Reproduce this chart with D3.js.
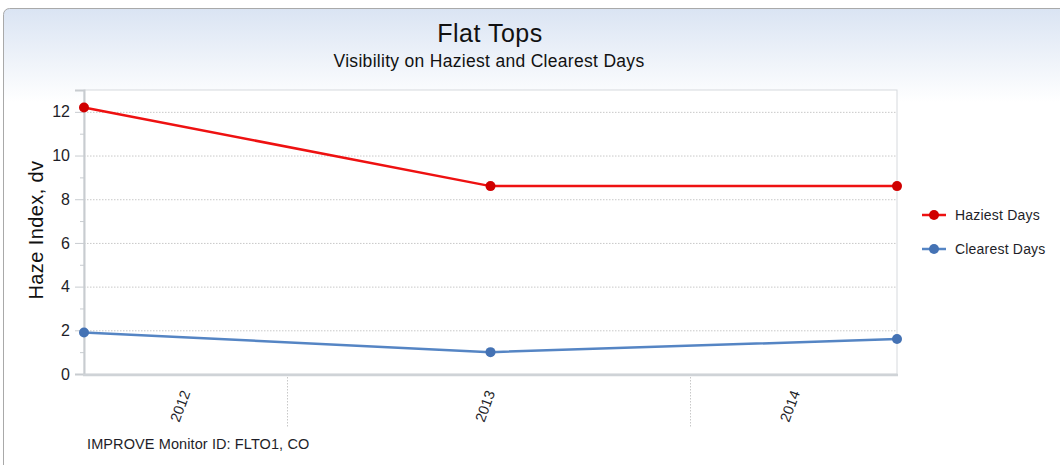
<!DOCTYPE html>
<html lang="en">
<head>
<meta charset="utf-8">
<style>
  body { margin: 0; background: #fff; }
  svg { font-family: Arial, 'Liberation Sans', sans-serif; }
  .grid line { stroke: #c8c8c8; stroke-dasharray: 1.5 1.5; }
</style>
</head>
<body>
<svg width="1060" height="465"></svg>
<script src="https://cdn.jsdelivr.net/npm/d3@7"></script>
<script>
const years = [2012, 2013, 2014];
const haziest = [12.2, 8.6, 8.6];
const clearest = [1.9, 1.0, 1.6];
const yTicks = [0, 2, 4, 6, 8, 10, 12];
const yMinor = [1, 3, 5, 7, 9, 11];
// where the category labels and separators sit, in year units
const labelAt = [2012.25, 2013, 2013.75];
const separators = [2012.5, 2013.49];

const series = [
  { name: "Haziest Days", values: haziest, line: "#ee1111", dot: "#d00000" },
  { name: "Clearest Days", values: clearest, line: "#5585c4", dot: "#4472b4" }
];

const svg = d3.select("svg");
const m = { left: 84, right: 897, top: 90, bottom: 374 };
const ink = "#1e1e28";

// background panel
const defs = svg.append("defs");
const grad = defs.append("linearGradient").attr("id", "bg").attr("x1", 0).attr("y1", 0).attr("x2", 0).attr("y2", 1);
grad.append("stop").attr("offset", "0").attr("stop-color", "#dae4f3");
grad.append("stop").attr("offset", "0.2").attr("stop-color", "#ffffff");
svg.append("rect")
  .attr("x", 3.5).attr("y", 8.5).attr("width", 1070).attr("height", 470)
  .attr("rx", 6)
  .attr("fill", "url(#bg)").attr("stroke", "#a9a9a9");

const x = d3.scaleLinear().domain([2012, 2014]).range([m.left, m.right]);
const y = d3.scaleLinear().domain([0, 13]).range([m.bottom, m.top]);

// plot area
svg.append("rect")
  .attr("x", m.left).attr("y", m.top)
  .attr("width", m.right - m.left).attr("height", m.bottom - m.top)
  .attr("fill", "#fff").attr("stroke", "#d6d9dd");

svg.append("g").attr("class", "grid")
  .selectAll("line").data(yTicks.filter(d => d > 0)).join("line")
  .attr("x1", m.left).attr("x2", m.right)
  .attr("y1", d => y(d) + 0.5).attr("y2", d => y(d) + 0.5);

svg.append("g").attr("class", "grid")
  .selectAll("line").data(separators).join("line")
  .attr("x1", d => Math.round(x(d)) + 0.5).attr("x2", d => Math.round(x(d)) + 0.5)
  .attr("y1", m.bottom + 3).attr("y2", m.bottom + 53);

// y axis
const yAxis = svg.append("g")
  .attr("transform", `translate(${m.left},0)`)
  .call(d3.axisLeft(y).tickValues(yTicks).tickSize(9).tickPadding(5));
yAxis.select(".domain").attr("stroke", "#c8ccd0").attr("stroke-width", 2);
yAxis.selectAll(".tick line").attr("stroke", "#c8ccd0");
yAxis.selectAll(".tick text")
  .attr("font-family", "Arial, 'Liberation Sans', sans-serif")
  .attr("font-size", 16).attr("fill", ink);
svg.append("g").selectAll("line").data(yMinor).join("line")
  .attr("x1", m.left - 4).attr("x2", m.left)
  .attr("y1", d => y(d) + 0.5).attr("y2", d => y(d) + 0.5)
  .attr("stroke", "#c8ccd0");

// x axis line
svg.append("line")
  .attr("x1", m.left - 1).attr("x2", m.right + 1)
  .attr("y1", m.bottom + 1).attr("y2", m.bottom + 1)
  .attr("stroke", "#cfd3d7").attr("stroke-width", 2.5);

// category labels
svg.append("g").selectAll("text").data(years).join("text")
  .attr("transform", (d, i) => `translate(${x(labelAt[i])},${m.bottom + 17}) rotate(-70)`)
  .attr("text-anchor", "end").attr("dy", "0.35em")
  .attr("font-size", 14.5).attr("fill", ink)
  .text(d => d);

// lines
const line = d3.line().x((d, i) => x(years[i])).y(d => y(d));
const sg = svg.append("g").selectAll("g").data(series).join("g");
sg.append("path")
  .attr("d", d => line(d.values))
  .attr("fill", "none").attr("stroke", d => d.line).attr("stroke-width", 2.5);
sg.selectAll("circle").data(d => d.values.map(v => ({ v, c: d.dot }))).join("circle")
  .attr("cx", (d, i) => x(years[i])).attr("cy", d => y(d.v))
  .attr("r", 5).attr("fill", d => d.c);

// legend
const lg = svg.append("g").selectAll("g").data(series).join("g")
  .attr("transform", (d, i) => `translate(922,${215 + i * 34})`);
lg.append("line").attr("x1", 0).attr("x2", 24).attr("stroke", d => d.line).attr("stroke-width", 2.5);
lg.append("circle").attr("cx", 12).attr("r", 5).attr("fill", d => d.dot);
lg.append("text").attr("x", 33).attr("dy", "0.35em")
  .attr("font-size", 14).attr("letter-spacing", 0.2).attr("fill", ink).text(d => d.name);

// titles
svg.append("text").attr("x", 490).attr("y", 42).attr("text-anchor", "middle")
  .attr("font-size", 25).attr("letter-spacing", 0.5).attr("fill", "#111").text("Flat Tops");
svg.append("text").attr("x", 489).attr("y", 67).attr("text-anchor", "middle")
  .attr("font-size", 17.5).attr("letter-spacing", 0.3).attr("fill", "#111")
  .text("Visibility on Haziest and Clearest Days");
svg.append("text")
  .attr("transform", `translate(43,${(m.top + m.bottom) / 2 - 2}) rotate(-90)`)
  .attr("text-anchor", "middle").attr("font-size", 20).attr("letter-spacing", 0.4).attr("fill", "#111")
  .text("Haze Index, dv");
svg.append("text").attr("x", 87).attr("y", 449)
  .attr("font-size", 14.5).attr("letter-spacing", 0.1).attr("fill", ink)
  .text("IMPROVE Monitor ID: FLTO1, CO");
</script>
</body>
</html>
